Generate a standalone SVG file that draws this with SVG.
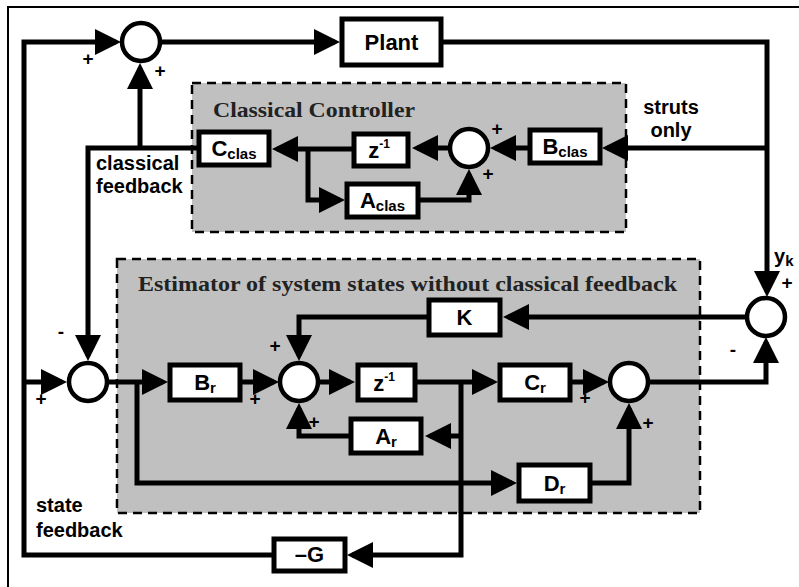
<svg xmlns="http://www.w3.org/2000/svg" width="799" height="587" viewBox="0 0 799 587">
<defs>
<style>
.frame{fill:none;stroke:#000;stroke-width:2}
.group{fill:#c0c0c0;stroke:#000;stroke-width:2.5;stroke-dasharray:9 6}
.title{font-family:"Liberation Serif","Times New Roman",serif;font-weight:bold;font-size:21px;fill:#222}
.wa{fill:none;stroke:#000;stroke-width:5;marker-end:url(#ah)}
.box{fill:#fff;stroke:#000;stroke-width:5}
.sum{fill:#fff;stroke:#000;stroke-width:4.5}
.lbl{font-family:"Liberation Sans",Arial,sans-serif;font-weight:bold;font-size:22px;fill:#000;text-anchor:middle}
.txt{font-family:"Liberation Sans",Arial,sans-serif;font-weight:bold;font-size:20px;fill:#000}
.sg{font-family:"Liberation Sans",Arial,sans-serif;font-weight:bold;font-size:19px;fill:#000;text-anchor:middle}
.sub{font-size:15px}
.sup{font-size:12px}
</style>
<marker id="ah" viewBox="0 0 26 26" markerWidth="26" markerHeight="26" refX="21" refY="13" orient="auto" markerUnits="userSpaceOnUse">
<path d="M0,0 L26,13 L0,26 Z" fill="#000"/>
</marker>
</defs>

<path class="frame" d="M8,590 V7 H805"/>

<g id="classical-controller">
<rect class="group" x="192" y="83" width="434" height="149"/>
<text class="title" x="213" y="117" textLength="202" lengthAdjust="spacingAndGlyphs">Classical Controller</text>
</g>
<g id="estimator">
<rect class="group" x="117" y="259" width="583" height="254"/>
<text class="title" x="138" y="291" textLength="539" lengthAdjust="spacingAndGlyphs">Estimator of system states without classical feedback</text>
</g>

<g id="connectors">
<path class="wa" d="M272,555 H24 V42 H116"/>
<path class="wa" d="M24,382 H62"/>
<path class="wa" d="M161,42 H335"/>
<path class="wa" d="M443,42 H767 V292"/>
<path class="wa" d="M767,148 H607"/>
<path class="wa" d="M528,148 H495"/>
<path class="wa" d="M448,148 H417"/>
<path class="wa" d="M352,149 H277"/>
<path class="wa" d="M308,149 V200 H340"/>
<path class="wa" d="M420,200 H469 V174"/>
<path class="wa" d="M197,148 H88 V356"/>
<path class="wa" d="M140,148 V68"/>
<path class="wa" d="M108,382 H163"/>
<path class="wa" d="M137,382 V483 H512"/>
<path class="wa" d="M242,382 H274"/>
<path class="wa" d="M320,382 H350"/>
<path class="wa" d="M417,382 H493"/>
<path class="wa" d="M461,382 V555 H352"/>
<path class="wa" d="M461,436 H430"/>
<path class="wa" d="M349,436 H299 V408"/>
<path class="wa" d="M746,317 H508"/>
<path class="wa" d="M427,317 H299 V356"/>
<path class="wa" d="M572,382 H604"/>
<path class="wa" d="M592,483 H629 V408"/>
<path class="wa" d="M650,382 H766 V342"/>
</g>

<g id="sum-top"><circle class="sum" cx="141" cy="42" r="19"/></g>
<g id="sum-clas"><circle class="sum" cx="469" cy="148" r="19"/></g>
<g id="sum-left"><circle class="sum" cx="88" cy="382" r="19"/></g>
<g id="sum-mid"><circle class="sum" cx="299" cy="382" r="19"/></g>
<g id="sum-out"><circle class="sum" cx="629" cy="382" r="19"/></g>
<g id="sum-right"><circle class="sum" cx="766" cy="317" r="19"/></g>

<g id="plant"><rect class="box" x="342" y="19" width="99" height="46"/><text class="lbl" x="391.5" y="50">Plant</text></g>
<g id="cclas"><rect class="box" x="199" y="132" width="70" height="33"/><text class="lbl" x="234" y="156">C<tspan class="sub" dy="3">clas</tspan></text></g>
<g id="zclas"><rect class="box" x="354" y="134" width="54" height="32"/><text class="lbl" x="379" y="158">z<tspan class="sup" dy="-10">-1</tspan></text></g>
<g id="bclas"><rect class="box" x="530" y="130" width="70" height="33"/><text class="lbl" x="565" y="154">B<tspan class="sub" dy="3">clas</tspan></text></g>
<g id="aclas"><rect class="box" x="347" y="184" width="71" height="33"/><text class="lbl" x="382.5" y="208">A<tspan class="sub" dy="3">clas</tspan></text></g>
<g id="k"><rect class="box" x="429" y="300" width="71" height="35"/><text class="lbl" x="464.5" y="325">K</text></g>
<g id="br"><rect class="box" x="170" y="365" width="70" height="35"/><text class="lbl" x="205" y="390">B<tspan class="sub" dy="3">r</tspan></text></g>
<g id="zr"><rect class="box" x="358" y="365" width="57" height="35"/><text class="lbl" x="384" y="391">z<tspan class="sup" dy="-10">-1</tspan></text></g>
<g id="cr"><rect class="box" x="500" y="365" width="70" height="35"/><text class="lbl" x="535" y="390">C<tspan class="sub" dy="3">r</tspan></text></g>
<g id="ar"><rect class="box" x="351" y="419" width="70" height="34"/><text class="lbl" x="386" y="443.5">A<tspan class="sub" dy="3">r</tspan></text></g>
<g id="dr"><rect class="box" x="519" y="465" width="71" height="36"/><text class="lbl" x="554.5" y="490.5">D<tspan class="sub" dy="3">r</tspan></text></g>
<g id="g"><rect class="box" x="274" y="539" width="71" height="32"/><text class="lbl" x="309.5" y="562">–G</text></g>

<g id="labels">
<text class="txt" x="96" y="170">classical</text>
<text class="txt" x="96" y="193">feedback</text>
<text class="txt" x="671" y="114" text-anchor="middle">struts</text>
<text class="txt" x="671" y="137" text-anchor="middle">only</text>
<text class="txt" x="36" y="512">state</text>
<text class="txt" x="36" y="537">feedback</text>
<text class="txt" x="774" y="263">y<tspan class="sub" dy="3">k</tspan></text>
<text class="sg" x="88" y="65">+</text>
<text class="sg" x="160" y="77">+</text>
<text class="sg" x="497" y="135">+</text>
<text class="sg" x="488" y="180">+</text>
<text class="sg" x="787" y="289">+</text>
<text class="sg" x="41" y="405">+</text>
<text class="sg" x="275" y="352">+</text>
<text class="sg" x="255" y="405">+</text>
<text class="sg" x="314" y="428">+</text>
<text class="sg" x="585" y="404">+</text>
<text class="sg" x="648" y="429">+</text>
<text class="sg" x="61" y="338">-</text>
<text class="sg" x="733" y="356">-</text>
</g>
</svg>
